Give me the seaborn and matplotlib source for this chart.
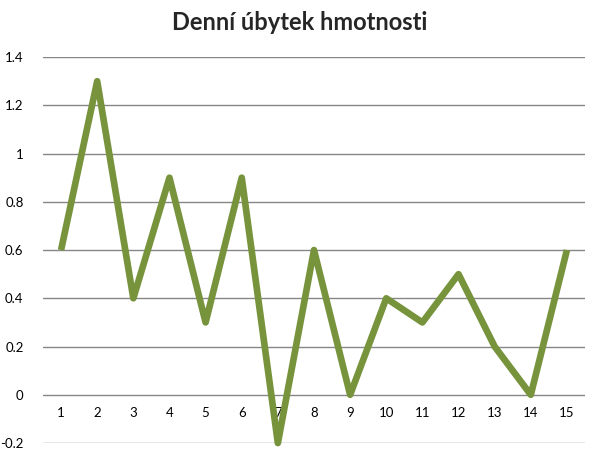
import matplotlib
matplotlib.use("Agg")
import matplotlib.pyplot as plt
import seaborn as sns
import pandas as pd

days = list(range(1, 16))
loss = [0.6, 1.3, 0.4, 0.9, 0.3, 0.9, -0.2, 0.6, 0.0, 0.4, 0.3, 0.5, 0.2, 0.0, 0.6]
yticks = [-0.2, 0, 0.2, 0.4, 0.6, 0.8, 1, 1.2, 1.4]
ytick_labels = ["-0.2", "0", "0.2", "0.4", "0.6", "0.8", "1", "1.2", "1.4"]
title = "Denní úbytek hmotnosti"

sns.set_style("white")
plt.rcParams['font.family'] = ['Lato', 'DejaVu Sans']

df = pd.DataFrame({"day": days, "loss": loss})

fig = plt.figure(figsize=(5.93, 4.53), dpi=100)
ax = fig.add_axes([0.0725, 0.022, 0.914, 0.852])

for y in yticks:
    ax.axhline(y, color="#868686", lw=1.0, zorder=1)

sns.lineplot(data=df, x="day", y="loss", ax=ax, color="#77933C", lw=4.8,
             solid_joinstyle="round", solid_capstyle="butt", zorder=3, clip_on=False)

ax.set_xlim(0.5, 15.5)
ax.set_ylim(-0.2, 1.4)
ax.set_yticks(yticks)
ax.set_yticklabels(ytick_labels)
ax.set_xticks(days)
ax.set_xticklabels([str(d) for d in days])
ax.spines['bottom'].set_position(('data', 0))
for s in ax.spines.values():
    s.set_visible(False)
ax.tick_params(axis='both', length=0, labelsize=9.5, colors="#000000")
ax.tick_params(axis='x', pad=9)
ax.tick_params(axis='y', pad=14)
ax.set_xlabel("")
ax.set_ylabel("")
fig.text(0.506, 0.95, title, ha="center", va="center", fontsize=17, fontweight="bold")

fig.savefig("out.png", dpi=100)
